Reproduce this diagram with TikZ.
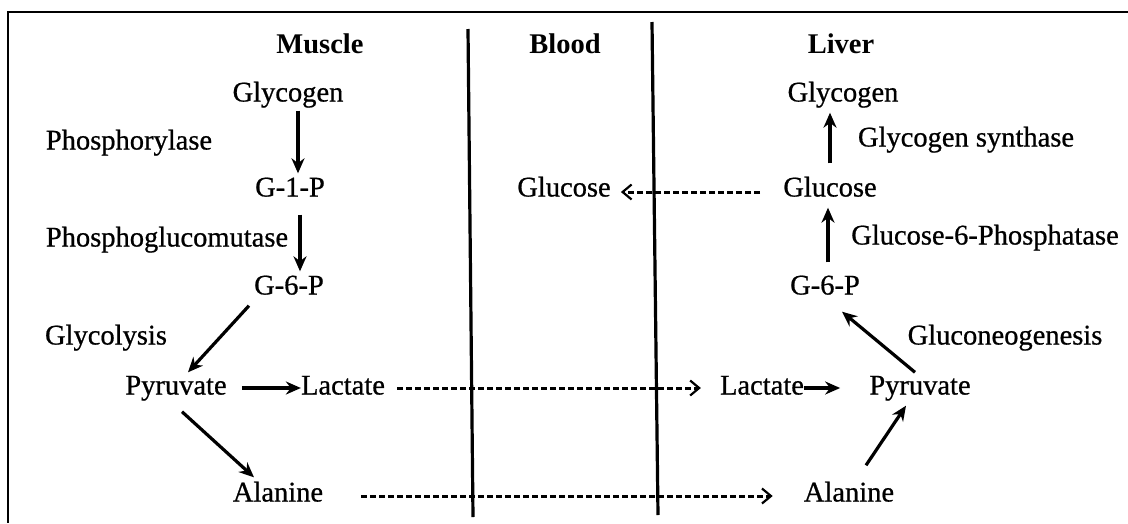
\documentclass[tikz,border=0pt]{standalone}
\usepackage{fontspec}
\setmainfont{Liberation Serif}
\newfontfamily\lblfont[FakeBold=0.7]{Liberation Serif}
\usetikzlibrary{arrows.meta}
\begin{document}
\begin{tikzpicture}[x=1pt,y=-1pt,
  lbl/.style={inner sep=0pt, font=\fontsize{28.5}{34}\lblfont, text height=19pt, text depth=6pt},
  hd/.style={lbl, font=\fontsize{28.5}{34}\selectfont\bfseries},
  rx/.style={line width=3.2pt, -{Stealth[length=15pt,width=13pt]}},
  dx/.style={line width=3pt, dash pattern=on 6pt off 3pt, -{Straight Barb[length=9pt,width=15pt,line width=2.2pt]}},
  framel/.style={line width=2pt},
  wall/.style={line width=3.2pt}]
\useasboundingbox (0,0) rectangle (1128,523);
\fill[white] (0,0) rectangle (1128,523);
% frame and walls
\draw[framel] (1128,12) -- (8,12) -- (8,523);
\draw[wall] (468,29) -- (473,517);
\draw[wall] (652,22) -- (658,515);
% headings
\node[hd] (mhead) at (320,47) {Muscle};
\node[hd] (bhead) at (565,47) {Blood};
\node[hd] (lhead) at (841,47) {Liver};
% muscle
\node[lbl] (mgly) at (288,95) {Glycogen};
\node[lbl] (phos) at (129,143) {Phosphorylase};
\node[lbl] (mg1p) at (290,190) {G-1-P};
\node[lbl] (pgm) at (167,240) {Phosphoglucomutase};
\node[lbl] (mg6p) at (289,288) {G-6-P};
\node[lbl] (glyc) at (106,338) {Glycolysis};
\node[lbl] (mpyr) at (176,388) {Pyruvate};
\node[lbl] (mlac) at (343,388) {Lactate};
\node[lbl] (mala) at (278,495) {Alanine};
% blood
\node[lbl] (bglc) at (564,190) {Glucose};
% liver
\node[lbl] (lgly) at (843,95) {Glycogen};
\node[lbl] (gs) at (966,140) {Glycogen synthase};
\node[lbl] (lglc) at (830,190) {Glucose};
\node[lbl] (g6pase) at (985,238) {Glucose-6-Phosphatase};
\node[lbl] (lg6p) at (825,288) {G-6-P};
\node[lbl] (gng) at (1005,338) {Gluconeogenesis};
\node[lbl] (llac) at (762,388) {Lactate};
\node[lbl] (lpyr) at (920,388) {Pyruvate};
\node[lbl] (lala) at (849,495) {Alanine};
% muscle arrows
\draw[rx] ([shift={(10,3)}]mgly.south) -- ([shift={(8,-4)}]mg1p.north);
\draw[rx] ([shift={(10,12)}]mg1p.south) -- ([shift={(11,-4)}]mg6p.north);
\draw[rx] ([shift={(-5,5)}]mg6p.south west) -- ([shift={(12,-3)}]mpyr.north);
\draw[rx] ([xshift=15pt]mpyr.east) -- (mlac.west);
\draw[rx] ([shift={(6,11)}]mpyr.south) -- ([shift={(-24,-5)}]mala.north);
% transport
\draw[dx, shorten <=12pt, shorten >=19pt] (mlac.east) -- (llac.west);
\draw[dx, shorten <=38pt, shorten >=31pt] ([shift={(0,1)}]mala.east) -- ([shift={(0,1)}]lala.west);
\draw[dx, shorten <=23pt, shorten >=10pt] ([shift={(0,2)}]lglc.west) -- ([shift={(0,2)}]bglc.east);
% liver arrows
\draw[rx] (llac.east) -- ([xshift=-29pt]lpyr.west);
\draw[rx] ([shift={(17,-17)}]lala.north) -- ([shift={(-14,5)}]lpyr.south);
\draw[rx] ([shift={(-5,-3)}]lpyr.north) -- ([shift={(-18,11)}]lg6p.south east);
\draw[rx] ([shift={(3,-13)}]lg6p.north) -- ([shift={(-2,5)}]lglc.south);
\draw[rx] ([shift={(0,-14)}]lglc.north) -- ([shift={(-13,5)}]lgly.south);
\end{tikzpicture}
\end{document}
